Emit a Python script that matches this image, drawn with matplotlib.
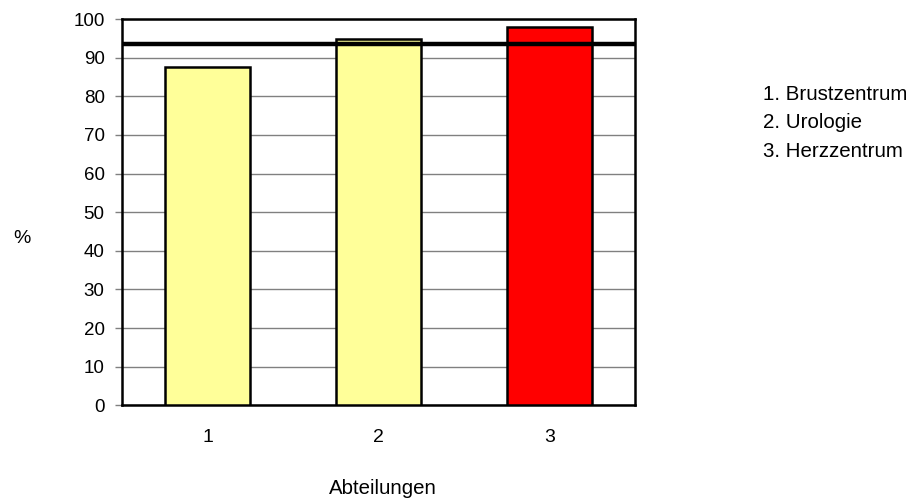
import matplotlib
matplotlib.use("Agg")
import matplotlib.pyplot as plt

plt.rcParams['font.family'] = ['Liberation Sans', 'DejaVu Sans']

categories = ["1", "2", "3"]
values = [87.5, 94.8, 97.8]
colors = ["#FFFF99", "#FFFF99", "#FF0000"]
target = 93.4
legend_lines = ["1. Brustzentrum", "2. Urologie", "3. Herzzentrum"]
yticks = list(range(0, 101, 10))

fig = plt.figure(figsize=(9.2, 5.01), dpi=100)
ax = fig.add_axes([122 / 920, 1 - 405.3 / 501, (635 - 122) / 920, (405.3 - 19) / 501])

x = range(len(categories))
ax.bar(x, values, width=0.5, color=colors, edgecolor="black", linewidth=1.8, zorder=3)
ax.axhline(target, color="black", linewidth=3.2, zorder=4)

ax.set_xlim(-0.5, len(categories) - 0.5)
ax.set_ylim(0, 100)
ax.set_yticks(yticks)
ax.set_xticks(list(x))
ax.set_xticklabels(categories)
ax.yaxis.grid(True, color="#808080", linewidth=1.0, zorder=0)
ax.set_axisbelow(True)
for s in ax.spines.values():
    s.set_color("black")
    s.set_linewidth(1.8)
ax.tick_params(axis="y", direction="out", length=5, width=1.0, color="#808080",
               labelsize=13.5, pad=7.5)
ax.tick_params(axis="x", length=0, labelsize=14, pad=17)

fig.text(13 / 920, 1 - 243 / 501, "%", fontsize=14, ha="left", va="baseline")
fig.text(383 / 920, 1 - 494.5 / 501, "Abteilungen", fontsize=14.7, ha="center", va="baseline")
for i, t in enumerate(legend_lines):
    fig.text(763 / 920, 1 - (100 + 28.3 * i) / 501, t, fontsize=14.8, ha="left", va="baseline")

fig.savefig("out.png", dpi=100)
